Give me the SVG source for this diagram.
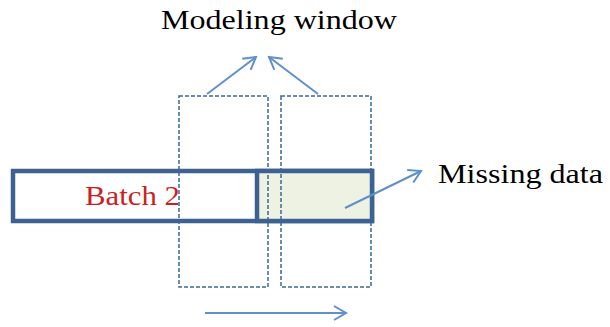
<svg xmlns="http://www.w3.org/2000/svg" width="610" height="327" viewBox="0 0 610 327">
  <style>
    .lbl { font-family: "Liberation Serif", "Times New Roman", serif; font-size: 27px; fill: #000; }
    .batch { fill: #CC1F1F; }
    .win { fill: none; stroke: #3A6898; stroke-width: 1.5; stroke-dasharray: 4 2; }
    .bar { stroke: #3D6190; stroke-width: 4.5; }
    .arr { fill: none; stroke: #5F90CC; stroke-width: 2; marker-end: url(#open); }
  </style>
  <defs>
    <marker id="open" viewBox="0 0 16 18" refX="14" refY="9" markerWidth="16" markerHeight="18" markerUnits="userSpaceOnUse" orient="auto">
      <path d="M2,2 L14,9 L2,16" fill="none" stroke="#5F90CC" stroke-width="2"/>
    </marker>
  </defs>

  <rect width="610" height="327" fill="#fff"/>

  <!-- batch bar with the missing-data segment -->
  <g id="batch">
    <rect x="13" y="171" width="359" height="50" fill="#fff" class="bar"/>
    <rect x="257" y="171" width="115" height="50" fill="#EEF2E3" class="bar"/>
    <text x="85" y="205" class="lbl batch" textLength="95" lengthAdjust="spacingAndGlyphs">Batch 2</text>
  </g>

  <!-- sliding modeling windows -->
  <g id="window1">
    <rect x="179" y="96" width="89" height="191" class="win"/>
  </g>
  <g id="window2">
    <rect x="281" y="96" width="90" height="191" class="win"/>
  </g>

  <g id="labels">
    <text x="161" y="29" class="lbl" textLength="236" lengthAdjust="spacingAndGlyphs">Modeling window</text>
    <text x="438" y="183" class="lbl" textLength="165" lengthAdjust="spacingAndGlyphs">Missing data</text>
  </g>

  <g id="connectors">
    <line x1="207" y1="94" x2="256" y2="57" class="arr"/>
    <line x1="318" y1="94" x2="269" y2="57" class="arr"/>
    <line x1="345" y1="208" x2="421" y2="171" class="arr"/>
    <line x1="205" y1="313" x2="346" y2="313" class="arr"/>
  </g>
</svg>
